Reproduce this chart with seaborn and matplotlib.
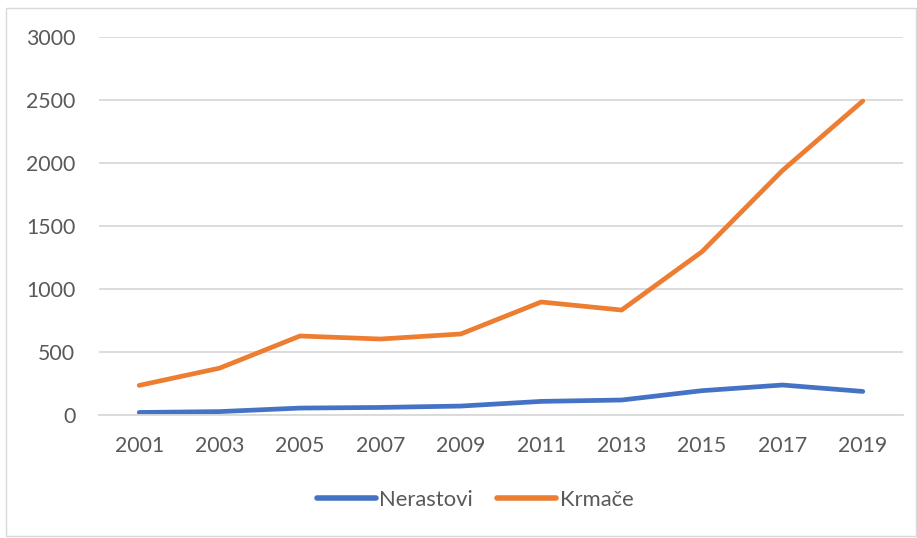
import pandas as pd
import numpy as np
import matplotlib
matplotlib.use("Agg")
import matplotlib.pyplot as plt
import seaborn as sns
from matplotlib.patches import Rectangle

# data
years = [2001, 2003, 2005, 2007, 2009, 2011, 2013, 2015, 2017, 2019]
nerastovi = [20, 27, 55, 60, 71, 108, 119, 193, 238, 187]
krmace = [235, 372, 627, 603, 643, 897, 833, 1296, 1940, 2492]
series_names = ["Nerastovi", "Krmače"]
colors = ["#4472C4", "#ED7D31"]

df = pd.DataFrame({
    "year": years * 2,
    "value": nerastovi + krmace,
    "series": [series_names[0]] * len(years) + [series_names[1]] * len(years),
})

sns.set_style("white")
plt.rcParams['font.family'] = ['Lato', 'DejaVu Sans']
text_col = "#595959"
grid_col = "#D9D9D9"

fig = plt.figure(figsize=(9.17, 5.38), dpi=100)
ax = fig.add_axes([99 / 917, 1 - 415 / 538, 804 / 917, 378 / 538])

sns.lineplot(data=df, x="year", y="value", hue="series", palette=colors,
             linewidth=3.4, ax=ax, solid_capstyle="round", legend=True)

ax.set_xlim(2000, 2020)
ax.set_ylim(0, 3000)
ax.set_xticks(years)
ax.set_yticks(np.arange(0, 3001, 500))
ax.yaxis.grid(True, color=grid_col, linewidth=1.3)
ax.set_axisbelow(True)
for s in ["top", "right", "left"]:
    ax.spines[s].set_visible(False)
ax.spines["bottom"].set_color(grid_col)
ax.spines["bottom"].set_linewidth(1.3)
ax.tick_params(axis="both", length=0, labelsize=15.3, labelcolor=text_col)
ax.tick_params(axis="y", pad=17)
ax.tick_params(axis="x", pad=15)
ax.set_xlabel("")
ax.set_ylabel("")

handles, labels = ax.get_legend_handles_labels()
ax.legend_.remove()
for h in handles:
    h.set_linewidth(4)
    h.set_solid_capstyle("round")
fig.legend(handles, labels, loc="center", bbox_to_anchor=(475 / 917, 1 - 500 / 538),
           ncol=2, frameon=False, fontsize=15.8, labelcolor=text_col,
           handlelength=2.7, handletextpad=0.15, columnspacing=1.1)

# outer chart border
fig.patches.append(Rectangle((6 / 917, 2 / 538), 910 / 917, 528 / 538,
                             transform=fig.transFigure, fill=False,
                             edgecolor=grid_col, linewidth=1))

fig.savefig("out.png", dpi=100)
